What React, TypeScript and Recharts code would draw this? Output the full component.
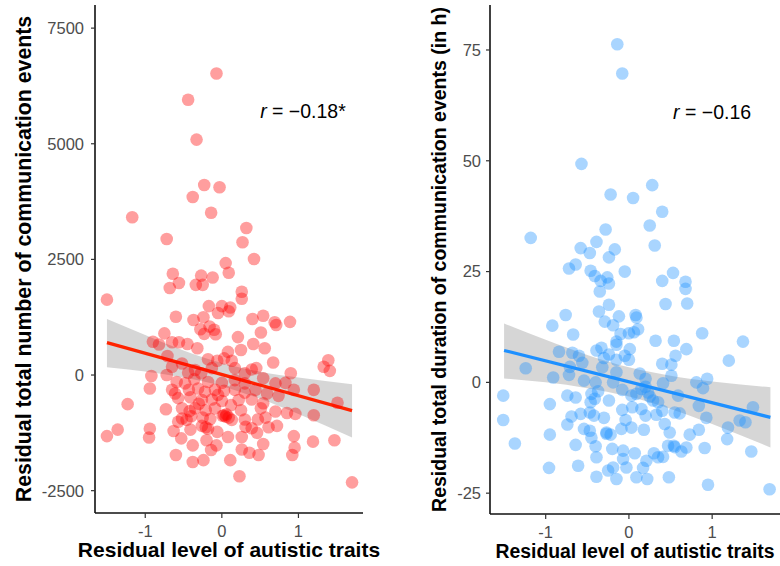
import React from 'react';
import { ComposedChart, Scatter, Line, Area, XAxis, YAxis, ReferenceDot } from 'recharts';

const FONT = '"Liberation Sans", Arial, Helvetica, sans-serif';

// residual autistic traits vs residual number of communication events
const countPoints: [number, number][] = [
  [-0.07, 6520], [-0.44, 5950], [-0.33, 5090], [-0.23, 4110], [-0.03, 4060], [-0.38, 3850], [-0.14, 3510],
  [-1.17, 3410], [0.32, 3180], [-0.72, 2940], [0.27, 2870], [0.42, 2510], [0.05, 2420], [-0.64, 2190],
  [0.09, 2210], [-0.56, 1990], [-0.27, 2150], [-0.12, 2110], [-0.68, 1880], [-0.34, 1950], [-0.25, 1950],
  [-1.5, 1630], [0.26, 1800], [0.26, 1650], [-0.17, 1490], [0.0, 1490], [0.11, 1460], [-0.05, 1340],
  [0.09, 1380], [-0.6, 1260], [-0.37, 1190], [-0.24, 1250], [0.4, 1210], [0.54, 1280], [0.69, 1140],
  [0.89, 1150], [0.71, 1080], [-0.75, 900], [-0.16, 1050], [-0.1, 980], [-0.08, 880], [-0.28, 990],
  [-0.23, 890], [0.51, 920], [0.21, 820], [-0.9, 720], [-0.82, 660], [-0.65, 710], [-0.56, 710],
  [-0.45, 670], [0.41, 670], [0.56, 580], [0.25, 540], [0.08, 500], [-0.32, 580], [-0.71, 410],
  [-0.18, 340], [-0.06, 310], [0.03, 360], [0.13, 310], [0.67, 270], [1.39, 320], [1.33, 180],
  [1.41, 90], [-0.65, 180], [-0.52, 250], [-0.44, 50], [-0.35, 110], [-0.27, 40], [-0.13, 150],
  [0.17, 150], [0.39, 120], [0.45, 150], [0.3, 40], [0.54, -70], [0.9, 40], [-0.92, -20], [-0.72, 0],
  [-0.59, -150], [-0.48, -180], [-0.36, -90], [-0.18, -150], [0.0, -170], [0.17, -110], [0.3, -180],
  [0.7, -180], [0.83, -170], [0.94, -320], [1.2, -320], [-0.94, -290], [-0.65, -320], [-0.61, -400],
  [-0.43, -320], [-0.31, -290], [-0.22, -360], [-0.09, -320], [0.03, -340], [0.17, -320], [0.3, -380],
  [0.44, -320], [0.59, -400], [0.74, -450], [-1.23, -630], [-0.57, -500], [-0.41, -480], [-0.26, -540],
  [-0.13, -530], [0.0, -560], [0.22, -540], [0.39, -530], [0.54, -610], [1.51, -600], [-0.73, -740],
  [-0.52, -720], [-0.35, -720], [-0.21, -760], [-0.09, -720], [0.25, -760], [0.51, -720], [0.7, -790],
  [0.85, -820], [0.96, -840], [1.2, -870], [-0.52, -940], [-0.4, -890], [-0.25, -920], [-0.15, -950],
  [0.03, -870], [0.09, -920], [0.13, -970], [0.3, -960], [0.47, -960], [0.57, -920], [-0.57, -1010],
  [-0.46, -970], [-0.26, -1100], [-0.21, -1130], [-0.06, -1230], [0.31, -1120], [0.39, -1150],
  [0.61, -1130], [0.72, -1100], [-1.5, -1320], [-1.36, -1180], [-0.94, -1160], [-0.95, -1350],
  [-0.63, -1210], [-0.41, -1180], [-0.53, -1370], [-0.2, -1410], [0.08, -1340], [0.26, -1340],
  [0.46, -1250], [0.94, -1320], [1.19, -1440], [1.47, -1410], [-0.38, -1520], [-0.07, -1520],
  [-0.14, -1620], [0.54, -1490], [0.95, -1570], [-0.6, -1730], [0.26, -1610], [0.36, -1680],
  [0.48, -1730], [0.92, -1730], [-0.38, -1880], [-0.24, -1840], [0.11, -1840], [0.23, -2190],
  [1.7, -2320], [0.05, -900], [0.06, -850], [0.01, -880], [-0.18, -1160], [-0.3, -620], [-0.05, -430],
  [0.12, -650], [-0.42, -780],
];

// residual autistic traits vs residual duration of communication events (hours)
const durationPoints: [number, number][] = [
  [-0.14, 76.3], [-0.08, 69.7], [-0.57, 49.3], [0.28, 44.5], [-0.22, 42.4], [0.05, 41.6], [0.4, 38.5],
  [-0.28, 34.5], [0.25, 35.4], [-1.18, 32.6], [-0.39, 31.7], [0.31, 30.9], [-0.58, 30.3], [-0.17, 30],
  [-0.47, 29.2], [-0.24, 28.2], [-0.64, 26.6], [-0.72, 25.7], [-0.46, 25.2], [-0.05, 25], [0.53, 24.7],
  [0.4, 22.9], [0.68, 22.7], [-0.41, 24], [-0.34, 22.9], [-0.26, 23.7], [-0.24, 22.3], [0.68, 21.1],
  [-0.35, 20.5], [0.44, 17.7], [0.7, 17.8], [-0.24, 17.5], [-0.76, 15.2], [-0.36, 16], [-0.12, 14.9],
  [0.08, 15.2], [0.09, 14.6], [-0.92, 12.8], [-0.29, 13.7], [-0.19, 12.9], [-0.67, 10.8], [-0.1, 10.9],
  [0.0, 11.1], [0.11, 12], [0.06, 11.3], [0.88, 11.1], [0.32, 9.4], [0.54, 9.4], [1.37, 9.2],
  [-0.15, 9.2], [0.69, 7.5], [-0.84, 6.9], [-0.68, 6.7], [-0.6, 6], [-0.39, 7.2], [-0.33, 7.8],
  [-0.15, 8.5], [0.01, 7.5], [-0.05, 6], [-0.15, 5.1], [-0.24, 6.3], [0.0, 5.1], [0.56, 6], [0.4, 4.2],
  [0.51, 4], [1.2, 4.9], [-1.24, 3.2], [-0.71, 3.5], [-0.56, 4.4], [-0.32, 3.4], [-0.91, 1.1],
  [-0.72, 1.7], [-0.15, 2.3], [0.13, 2], [0.51, 1.5], [-0.54, 0.4], [-0.4, 0], [-0.19, 0], [0.2, 0.8],
  [0.41, -0.2], [0.81, 0], [0.94, 0.8], [0.89, -1.3], [-1.51, -3], [-0.74, -3], [-0.64, -3.4],
  [-0.45, -2.6], [-0.37, -2], [-0.24, -4.1], [-0.08, -1.7], [0.03, -3], [0.09, -2.6], [0.23, -2.3],
  [0.25, -3.2], [0.29, -4.1], [0.35, -4.5], [0.59, -3], [0.84, -5.3], [-0.95, -4.9], [-0.46, -4.5],
  [-0.41, -3.7], [-0.08, -6.2], [0.04, -5.6], [0.15, -6], [0.2, -7.5], [0.33, -7.3], [0.4, -6.4],
  [0.55, -6.8], [0.61, -7], [0.93, -8], [1.49, -5.6], [1.33, -8.6], [1.4, -9], [-1.51, -8.5],
  [-0.69, -7.7], [-0.58, -7.1], [-0.47, -6.8], [-0.42, -7.5], [-0.3, -8], [-0.74, -9.5], [-0.54, -10.5],
  [-0.47, -10.9], [-0.27, -11.3], [-0.22, -11.8], [-0.09, -10.5], [0.03, -10.2], [0.18, -10.7],
  [-0.04, -8.5], [0.43, -9.4], [0.49, -11.3], [0.54, -14.3], [0.73, -11.8], [0.84, -10.7], [1.19, -10.2],
  [1.18, -12.8], [-0.95, -11.8], [-1.37, -13.8], [-0.45, -12.5], [-0.64, -14.1], [-0.4, -14.4],
  [-0.2, -15], [-0.07, -15.4], [0.07, -16], [0.3, -16], [0.41, -16.8], [0.47, -14.3], [0.63, -15.6],
  [0.69, -14.7], [0.91, -14.8], [1.47, -15.6], [-0.39, -16.9], [-0.07, -17.3], [0.21, -17.7],
  [0.35, -16.9], [-0.96, -19.3], [-0.61, -18.8], [-0.25, -19.9], [-0.19, -19.2], [-0.03, -19.2],
  [0.17, -19.3], [-0.39, -21.3], [-0.15, -21.8], [0.09, -21.4], [0.22, -21.8], [0.48, -21.4],
  [0.95, -23.1], [1.69, -24.1], [0.15, -1.5], [0.2, -1.0], [0.55, -14.6], [-0.27, -11.6], [-0.3, 5.5],
];

// fitted lines (x at ends of the data range)
const fitX = [-1.5, 1.7];
const countFitY = [700, -770];
const durationFitY = [7.2, -7.9];

// confidence band edges
const bandX = [-1.5, -1, -0.5, 0, 0.5, 1, 1.7];
const countBandLo = [170, 75, -55, -240, -515, -845, -1350];
const countBandHi = [1210, 865, 530, 260, 70, -55, -200];
const durationBandLo = [0.9, 0.0, -1.3, -3.2, -6.0, -9.4, -14.7];
const durationBandHi = [13.3, 9.6, 6.2, 3.4, 1.5, 0.2, -1.1];

const xTicks = [-1, 0, 1];
const countTicks = [-2500, 0, 2500, 5000, 7500];
const durationTicks = [-25, 0, 25, 50, 75];

const toXY = (pts: [number, number][]) => pts.map(([x, y]) => ({ x, y }));
const toLine = (ys: number[]) => fitX.map((x, i) => ({ x, y: ys[i] }));
const toBand = (lo: number[], hi: number[]) => bandX.map((x, i) => ({ x, range: [lo[i], hi[i]] }));

const tickStyle = { fill: '#4d4d4d', fontSize: 16.5, fontFamily: FONT };
const axisLine = { stroke: '#111', strokeWidth: 1.6 };
const tickLine = { stroke: '#333', strokeWidth: 1.2 };

const dot = (color: string) => (props: any) => (
  <circle cx={props.cx} cy={props.cy} r={6.3} fill={color} fillOpacity={0.38} />
);

const yTitle = (text: string, x: number, size: number) => (props: any) => {
  const vb = props.viewBox || {};
  const cy = vb.height ? vb.y + vb.height / 2 : 259;
  return (
    <text
      x={x}
      y={cy}
      transform={`rotate(-90 ${x} ${cy})`}
      textAnchor="middle"
      dominantBaseline="central"
      fontFamily={FONT}
      fontWeight="bold"
      fontSize={size}
      fill="#000"
    >
      {text}
    </text>
  );
};

const xTitle = (text: string, size: number) => (props: any) => {
  const vb = props.viewBox || {};
  return (
    <text
      x={vb.x + vb.width / 2}
      y={vb.y + 44}
      textAnchor="middle"
      fontFamily={FONT}
      fontWeight="bold"
      fontSize={size}
      fill="#000"
    >
      {text}
    </text>
  );
};

const corrLabel = (value: string) => (props: any) => {
  const vb = props.viewBox || {};
  return (
    <text x={vb.x} y={vb.y} fontFamily={FONT} fontSize={19.5} fill="#000">
      <tspan fontStyle="italic">r</tspan>
      <tspan>{` = \u2212${value}`}</tspan>
    </text>
  );
};

const App = () => (
  <div style={{ position: 'absolute', left: 0, top: 0, width: 780, height: 566, background: '#fff', display: 'flex' }}>
    <ComposedChart width={390} height={566} margin={{ top: 5, right: 27, bottom: 0, left: 0 }}>
      <XAxis
        type="number"
        dataKey="x"
        domain={[-1.656, 1.843]}
        allowDataOverflow
        ticks={xTicks}
        tick={tickStyle}
        tickSize={5}
        tickMargin={7}
        axisLine={axisLine}
        tickLine={tickLine}
        height={53}
        label={xTitle('Residual level of autistic traits', 21)}
      />
      <YAxis
        type="number"
        dataKey="y"
        domain={[-2983, 8000]}
        allowDataOverflow
        ticks={countTicks}
        tick={tickStyle}
        tickSize={4}
        tickMargin={7}
        axisLine={axisLine}
        tickLine={tickLine}
        width={95}
        label={yTitle('Residual total number of communication events', 24, 21.3)}
      />
      <Scatter data={toXY(countPoints)} dataKey="y" shape={dot('#ff0000')} isAnimationActive={false} />
      <Area
        data={toBand(countBandLo, countBandHi)}
        dataKey="range"
        type="monotone"
        stroke="none"
        fill="#999999"
        fillOpacity={0.4}
        isAnimationActive={false}
      />
      <Line data={toLine(countFitY)} dataKey="y" stroke="#ff2400" strokeWidth={3.2} dot={false} isAnimationActive={false} />
      <ReferenceDot x={0.5} y={5564} r={0} fill="none" stroke="none" label={corrLabel('0.18*')} />
    </ComposedChart>
    <ComposedChart width={390} height={566} margin={{ top: 5, right: 0, bottom: 0, left: 0 }}>
      <XAxis
        type="number"
        dataKey="x"
        domain={[-1.669, 1.815]}
        allowDataOverflow
        ticks={xTicks}
        tick={tickStyle}
        tickSize={5}
        tickMargin={7}
        axisLine={axisLine}
        tickLine={tickLine}
        height={52}
        label={xTitle('Residual level of autistic traits', 19.4)}
      />
      <YAxis
        type="number"
        dataKey="y"
        domain={[-29.7, 85.15]}
        allowDataOverflow
        ticks={durationTicks}
        tick={tickStyle}
        tickSize={4}
        tickMargin={5}
        axisLine={axisLine}
        tickLine={tickLine}
        width={100}
        label={yTitle('Residual total duration of communication events (in h)', 49, 19.5)}
      />
      <Scatter data={toXY(durationPoints)} dataKey="y" shape={dot('#1e90ff')} isAnimationActive={false} />
      <Area
        data={toBand(durationBandLo, durationBandHi)}
        dataKey="range"
        type="monotone"
        stroke="none"
        fill="#999999"
        fillOpacity={0.4}
        isAnimationActive={false}
      />
      <Line data={toLine(durationFitY)} dataKey="y" stroke="#1e90ff" strokeWidth={3.2} dot={false} isAnimationActive={false} />
      <ReferenceDot x={0.53} y={59.5} r={0} fill="none" stroke="none" label={corrLabel('0.16')} />
    </ComposedChart>
  </div>
);

export default App;
